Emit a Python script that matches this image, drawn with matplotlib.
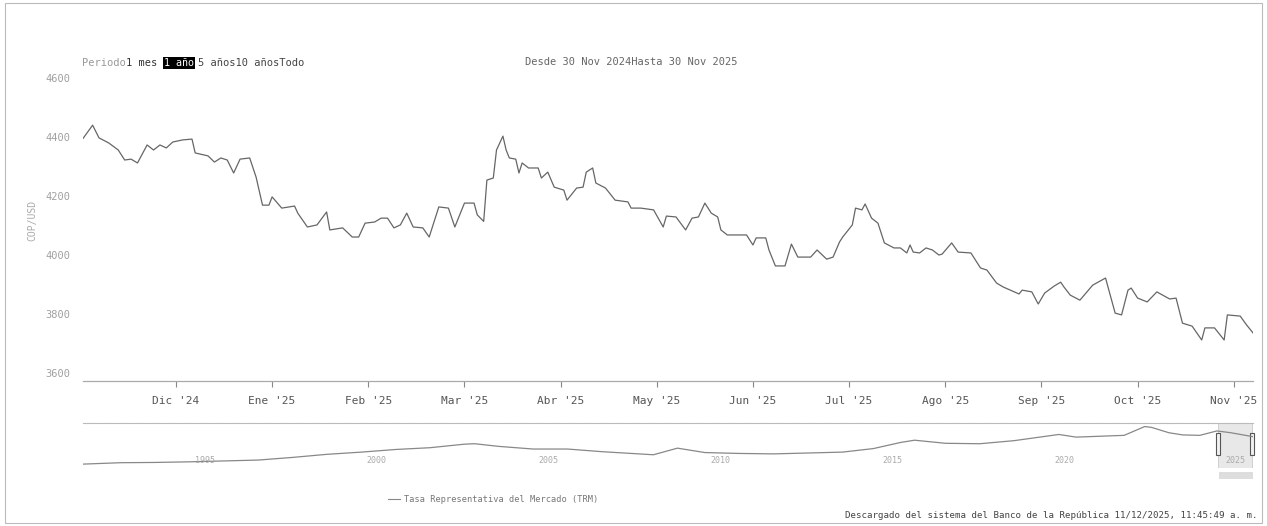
import matplotlib
matplotlib.use("Agg")
import matplotlib.pyplot as plt
from matplotlib.patches import Rectangle
import matplotlib.transforms as mtransforms
import numpy as np
import pandas as pd

plt.rcParams['font.family'] = ['DejaVu Sans Mono']

# === Datos TRM (último año) ===
inicio = pd.Timestamp("2024-11-30")
dias = [0, 3, 5, 8, 11, 13, 15, 17, 20, 22, 24, 26, 28, 31, 34, 35, 39, 41, 43, 45,
        47, 49, 52, 54, 56, 58, 59, 62, 66, 67, 70, 73, 76, 77, 81, 84, 86, 88, 91, 93,
        95, 97, 99, 101, 103, 106, 108, 111, 114, 116, 119, 122, 123, 125, 126, 128, 129, 131, 132, 133,
        135, 136, 137, 139, 142, 143, 145, 147, 150, 151, 154, 156, 157, 159, 160, 163, 166, 170, 171, 174,
        178, 181, 182, 185, 188, 190, 192, 194, 196, 198, 199, 201, 207, 209, 210, 213, 214, 216, 219, 221,
        223, 227, 229, 232, 234, 236, 237, 240, 241, 243, 244, 246, 248, 250, 253, 255, 257, 258, 259, 261,
        263, 265, 267, 268, 271, 273, 277, 280, 282, 285, 287, 292, 293, 296, 298, 300, 303, 305, 306, 308,
        311, 315, 319, 322, 324, 326, 327, 329, 332, 335, 339, 341, 343, 346, 349, 350, 353, 356, 357, 361,
        363, 365]
trm = [4395, 4440, 4397, 4380, 4356, 4322, 4325, 4312, 4373, 4356, 4373, 4363, 4383, 4390, 4393, 4346, 4336, 4315, 4329, 4322,
       4278, 4325, 4329, 4264, 4169, 4169, 4197, 4159, 4166, 4142, 4095, 4102, 4146, 4085, 4092, 4061, 4061, 4108, 4112, 4125,
       4125, 4092, 4102, 4142, 4095, 4092, 4061, 4163, 4159, 4095, 4176, 4176, 4136, 4114, 4254, 4261, 4356, 4403, 4356, 4329,
       4325, 4278, 4312, 4295, 4295, 4261, 4281, 4230, 4220, 4186, 4227, 4230, 4281, 4295, 4244, 4227, 4186, 4180, 4159, 4159,
       4153, 4095, 4132, 4129, 4085, 4125, 4129, 4176, 4142, 4129, 4085, 4068, 4068, 4034, 4058, 4058, 4017, 3963, 3963, 4037,
       3993, 3993, 4017, 3986, 3993, 4044, 4061, 4102, 4159, 4153, 4173, 4125, 4108, 4041, 4024, 4024, 4007, 4034, 4010, 4007,
       4024, 4017, 4000, 4003, 4041, 4010, 4007, 3956, 3949, 3905, 3892, 3868, 3881, 3875, 3834, 3871, 3895, 3908, 3892, 3864,
       3847, 3898, 3922, 3803, 3797, 3881, 3888, 3854, 3841, 3875, 3851, 3854, 3769, 3759, 3712, 3753, 3753, 3712, 3797, 3793,
       3763, 3736]

# === Navegador (serie histórica) ===
nav_anio = [1991.9, 1993.0, 1994.0, 1995.0, 1996.0, 1997.0, 1998.0, 1999.0, 2000.0, 2001.0,
            2002.0, 2003.0, 2003.3, 2004.0, 2005.0, 2006.0, 2007.0, 2008.5, 2009.2, 2010.0,
            2011.0, 2012.0, 2013.0, 2014.0, 2014.9, 2015.7, 2016.1, 2017.0, 2018.0, 2019.0,
            2020.3, 2020.8, 2021.5, 2022.2, 2022.8, 2023.0, 2023.5, 2023.9, 2024.4, 2024.9,
            2025.3, 2025.95]
nav_trm = [640, 800, 830, 900, 1000, 1100, 1400, 1750, 2000, 2300,
           2500, 2900, 2950, 2650, 2350, 2350, 2050, 1700, 2450, 1950,
           1850, 1800, 1900, 2000, 2400, 3100, 3350, 3000, 2950, 3300,
           4000, 3700, 3800, 3900, 4900, 4800, 4200, 3950, 3900, 4400,
           4200, 3750]
nav_etiquetas = [1995, 2000, 2005, 2010, 2015, 2020, 2025]

meses = ["Dic '24", "Ene '25", "Feb '25", "Mar '25", "Abr '25", "May '25",
         "Jun '25", "Jul '25", "Ago '25", "Sep '25", "Oct '25", "Nov '25"]
y_ticks = [3600, 3800, 4000, 4200, 4400, 4600]

fechas = inicio + pd.to_timedelta(dias, unit='D')

W, H = 1267, 526
fig = plt.figure(figsize=(W / 100, H / 100), dpi=100)

def caja(x0, y0, x1, y1):
    # pixeles (origen arriba-izquierda) -> fracción de figura
    return [x0 / W, 1 - y1 / H, (x1 - x0) / W, (y1 - y0) / H]

# === Gráfico principal ===
ax = fig.add_axes(caja(83, 78, 1253, 381))
ax.plot(fechas, trm, color='#666666', linewidth=0.9)
ax.set_xlim(inicio, inicio + pd.Timedelta(days=365))
ax.set_ylim(3573, 4600)
ax.set_yticks(y_ticks)
ax.set_yticklabels([str(v) for v in y_ticks])
ax.tick_params(axis='y', length=0, pad=9, labelsize=7.5, labelcolor='#a0a0a0')
ticks_x = inicio + pd.to_timedelta(29 + 30 * np.arange(len(meses)), unit='D')
ax.set_xticks(ticks_x)
ax.set_xticklabels(meses)
ax.tick_params(axis='x', length=4.5, width=0.8, color='#888888', pad=6,
               labelsize=8, labelcolor='#555555')
for s in ['top', 'right', 'left']:
    ax.spines[s].set_visible(False)
ax.spines['bottom'].set_color('#aaaaaa')
ax.spines['bottom'].set_linewidth(0.9)
ax.set_ylabel("COP/USD", fontsize=7, color='#aaaaaa')
ax.yaxis.set_label_coords(-0.039, 0.53)

# === Navegador ===
nav = fig.add_axes(caja(83, 423, 1253, 468))
nav.plot(nav_anio, nav_trm, color='#888888', linewidth=0.9)
nav.set_xlim(1991.9, 2025.95)
nav.set_ylim(200, 5300)
nav.set_xticks([])
nav.set_yticks([])
for s in ['bottom', 'right', 'left']:
    nav.spines[s].set_visible(False)
nav.spines['top'].set_color('#bbbbbb')
nav.spines['top'].set_linewidth(0.8)
nav.spines['top'].set_linestyle((0, (1, 0.6)))
trans = mtransforms.blended_transform_factory(nav.transData, nav.transAxes)
for a in nav_etiquetas:
    nav.text(a + 0.45, 0.16, str(a), transform=trans, ha='center', va='center',
             fontsize=6, color='#aaaaaa')
nav.add_patch(Rectangle((2024.92, 0), 1.0, 1, transform=trans,
                        facecolor='#cccccc', alpha=0.45, edgecolor='#999999', lw=0.6))
for xh in [2024.92, 2025.92]:
    nav.add_patch(Rectangle((xh - 0.06, 0.28), 0.12, 0.5, transform=trans,
                            facecolor='#f2f2f2', edgecolor='#555555', lw=0.8,
                            clip_on=False))
fig.patches.append(Rectangle((1219 / W, 1 - 479 / H), 34 / W, 7 / H,
                             transform=fig.transFigure, facecolor='#dddddd',
                             edgecolor='none'))

# === Selector de periodo y rango ===
fig.text(82 / W, 1 - 63 / H, "Periodo", fontsize=7.5, color='#999999', va='center')
fig.text(126 / W, 1 - 63 / H, "1 mes", fontsize=7.5, color='#333333', va='center')
fig.text(164 / W, 1 - 63 / H, "1 año", fontsize=7.2, color='white', va='center',
         bbox=dict(boxstyle='square,pad=0.12', facecolor='black', edgecolor='none'))
fig.text(198 / W, 1 - 63 / H, "5 años10 añosTodo", fontsize=7.5, color='#444444',
         va='center')
fig.text(525 / W, 1 - 62 / H, "Desde 30 Nov 2024Hasta 30 Nov 2025", fontsize=7.5,
         color='#666666', va='center')

# === Leyenda y pie ===
fig.lines.append(plt.Line2D([388 / W, 400 / W], [1 - 499 / H] * 2,
                            transform=fig.transFigure, color='#888888', lw=0.8))
fig.text(404 / W, 1 - 499 / H, "Tasa Representativa del Mercado (TRM)", fontsize=6.2,
         color='#777777', va='center')
fig.text(845 / W, 1 - 515 / H,
         "Descargado del sistema del Banco de la República 11/12/2025, 11:45:49 a. m.",
         fontsize=6.55, color='#444444', va='center')

# === Marco ===
fig.patches.append(Rectangle((5 / W, 3 / H), 1257 / W, 520 / H, transform=fig.transFigure,
                             fill=False, edgecolor='#bbbbbb', lw=0.8))

fig.savefig("out.png", dpi=100)
